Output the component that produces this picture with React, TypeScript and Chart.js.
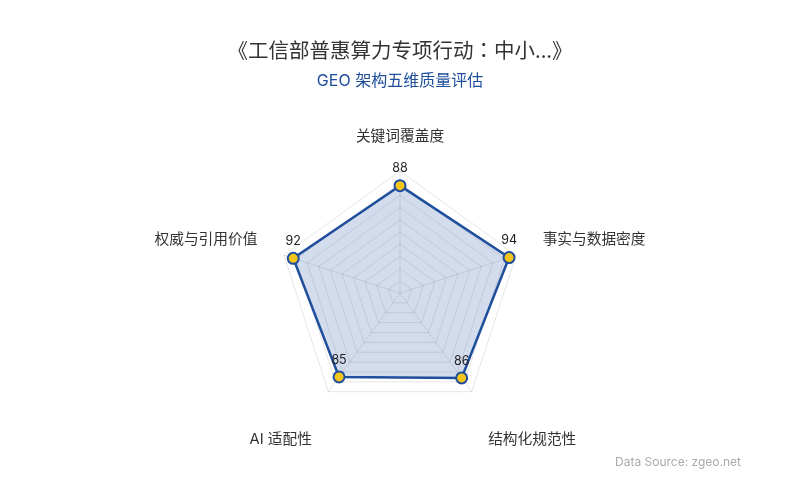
import React, { useEffect, useRef } from 'react';
import { Chart, registerables } from 'chart.js';

Chart.register(...registerables);

const dimensions = ['关键词覆盖度', '事实与数据密度', '结构化规范性', 'AI 适配性', '权威与引用价值'];
const scores = [88, 94, 86, 85, 92];
const chartTitle = '《工信部普惠算力专项行动：中小...》';
const chartSubtitle = 'GEO 架构五维质量评估';
const sourceNote = 'Data Source: zgeo.net';

const FONT = "Inter, 'Noto Sans CJK SC', sans-serif";
const TITLE_FONT = "'Noto Sans CJK TC', 'Noto Sans CJK SC', Inter, sans-serif";

// title, subtitle and source note
const textPlugin = {
  id: 'texts',
  afterDraw(chart: Chart) {
    const ctx = chart.ctx;
    ctx.save();
    ctx.textAlign = 'center';
    ctx.textBaseline = 'middle';
    ctx.fillStyle = '#333333';
    ctx.font = `20.5px ${TITLE_FONT}`;
    ctx.fillText(chartTitle, 400, 50);
    ctx.fillStyle = '#1f4e9c';
    ctx.font = `16px ${FONT}`;
    ctx.fillText(chartSubtitle, 400, 81);
    ctx.textAlign = 'right';
    ctx.fillStyle = '#aaaaaa';
    ctx.font = `12px ${FONT}`;
    ctx.fillText(sourceNote, 741, 462);
    ctx.restore();
  },
};

// axis names around the radar
const axisNamePlugin = {
  id: 'axisNames',
  afterDraw(chart: Chart) {
    const scale: any = chart.scales.r;
    const ctx = chart.ctx;
    const n = dimensions.length;
    ctx.save();
    ctx.fillStyle = '#333333';
    ctx.font = `14.7px ${FONT}`;
    dimensions.forEach((name, i) => {
      const p = scale.getPointPosition(i, scale.drawingArea + 28);
      const frac = i / n;
      if (i === 0) {
        ctx.textAlign = 'center';
        ctx.textBaseline = 'bottom';
        ctx.fillText(name, p.x, p.y + 1);
      } else if (frac < 0.25 || frac > 0.75) {
        ctx.textAlign = frac < 0.5 ? 'left' : 'right';
        ctx.textBaseline = 'bottom';
        ctx.fillText(name, p.x, p.y);
      } else {
        ctx.textAlign = frac < 0.5 ? 'left' : 'right';
        ctx.textBaseline = 'top';
        ctx.fillText(name, p.x, p.y + 18);
      }
    });
    ctx.restore();
  },
};

// value labels above the points
const valuePlugin = {
  id: 'values',
  afterDatasetsDraw(chart: Chart) {
    const ctx = chart.ctx;
    const meta = chart.getDatasetMeta(0);
    ctx.save();
    ctx.fillStyle = '#222222';
    ctx.font = `12.5px ${FONT}`;
    ctx.textAlign = 'center';
    ctx.textBaseline = 'middle';
    meta.data.forEach((pt: any, i: number) => {
      ctx.fillText(String(scores[i]), pt.x, pt.y - 17);
    });
    ctx.restore();
  },
};

const RadarChart: React.FC = () => {
  const chartRef = useRef<HTMLCanvasElement>(null);
  const chartInstanceRef = useRef<Chart | null>(null);

  useEffect(() => {
    if (chartRef.current) {
      const ctx = chartRef.current.getContext('2d');
      if (ctx) {
        if (chartInstanceRef.current) {
          chartInstanceRef.current.destroy();
        }
        chartInstanceRef.current = new Chart(ctx, {
          type: 'radar',
          data: {
            labels: dimensions,
            datasets: [{
              data: scores,
              backgroundColor: 'rgba(31, 78, 158, 0.2)',
              borderColor: '#1f4e9c',
              borderWidth: 2.5,
              pointBackgroundColor: '#f5c518',
              pointBorderColor: '#1f4e9c',
              pointBorderWidth: 2,
              pointRadius: 5.5,
            }],
          },
          options: {
            responsive: true,
            maintainAspectRatio: false,
            animation: false,
            layout: {
              padding: { top: 171, bottom: 85, left: 0, right: 0 },
            },
            plugins: {
              legend: { display: false },
              tooltip: { enabled: false },
            },
            scales: {
              r: {
                min: 0,
                max: 100,
                ticks: { display: false, stepSize: 10 },
                pointLabels: { display: false },
                grid: { color: 'rgba(0, 0, 0, 0.1)', lineWidth: 1 },
                angleLines: { color: 'rgba(0, 0, 0, 0.1)', lineWidth: 1 },
              },
            },
          },
          plugins: [textPlugin, axisNamePlugin, valuePlugin],
        });
      }
    }
    return () => {
      if (chartInstanceRef.current) {
        chartInstanceRef.current.destroy();
        chartInstanceRef.current = null;
      }
    };
  }, []);

  return (
    <div style={{ position: 'fixed', left: 0, top: 0, width: 800, height: 500, background: '#fff' }}>
      <canvas ref={chartRef}></canvas>
    </div>
  );
};

export default function App() {
  return <RadarChart />;
}
